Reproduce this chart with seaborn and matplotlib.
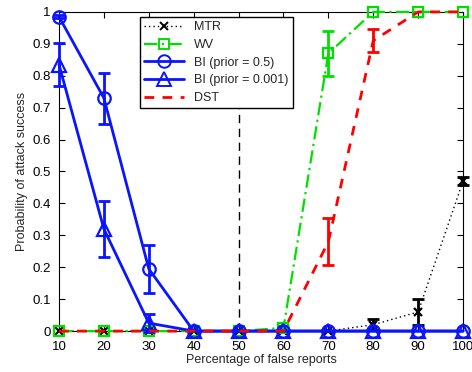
import numpy as np
import pandas as pd
import seaborn as sns
import matplotlib
matplotlib.use("Agg")
import matplotlib.pyplot as plt
from matplotlib.lines import Line2D

x = [10, 20, 30, 40, 50, 60, 70, 80, 90, 100]

mtr = [0, 0, 0, 0, 0, 0, 0, 0.02, 0.06, 0.47]
mtr_err = [0, 0, 0, 0, 0, 0, 0, 0.018, 0.04, 0.012]

wv = [0, 0, 0, 0, 0, 0.01, 0.87, 1.0, 1.0, 1.0]
wv_err = [0, 0, 0, 0, 0, 0.005, 0.07, 0, 0, 0]

bi_05 = [0.985, 0.73, 0.195, 0, 0, 0, 0, 0, 0, 0]
bi_05_err = [0.005, 0.08, 0.075, 0, 0, 0, 0, 0, 0, 0]

bi_0001 = [0.835, 0.32, 0.025, 0, 0, 0, 0, 0, 0, 0]
bi_0001_err = [0.068, 0.087, 0.028, 0, 0, 0, 0, 0, 0, 0]

dst = [0, 0, 0, 0, 0, 0, 0.28, 0.91, 1.0, 1.0]
dst_err = [0, 0, 0, 0, 0, 0, 0.073, 0.035, 0, 0]

threshold = 50

sns.set_style("ticks")
plt.rcParams["font.family"] = ["Liberation Sans", "DejaVu Sans"]

fig = plt.figure(figsize=(4.72, 3.72), dpi=100)
ax = fig.add_axes([0.125, 0.110, 0.856, 0.858])

series = [
    ("MTR", mtr, mtr_err, "black", (0, (1, 2.2)), "x", 1.0, 6),
    ("WV", wv, wv_err, "#00e000", (0, (6, 2, 1, 2)), "s", 1.6, 7),
    ("BI (prior = 0.5)", bi_05, bi_05_err, "#0a14ff", "-", "o", 2.0, 9),
    ("BI (prior = 0.001)", bi_0001, bi_0001_err, "#0a14ff", "-", "^", 2.0, 10),
    ("DST", dst, dst_err, "#ff0000", (0, (3.5, 3)), None, 2.0, 0),
]

order = [4, 0, 1, 2, 3]
for i in order:
    name, vals, err, col, ls, mk, lw, ms = series[i]
    df = pd.DataFrame({"x": x, "y": vals})
    sns.lineplot(data=df, x="x", y="y", ax=ax, color=col, linestyle=ls,
                 linewidth=lw, marker=mk, markersize=ms,
                 markerfacecolor="none" if mk not in (None, "x") else col,
                 markeredgecolor=col, markeredgewidth=1.6,
                 label=name, zorder=3 + i, legend=False, clip_on=False)
    e = np.array(err)
    idx = e > 0
    eb = ax.errorbar(np.array(x)[idx], np.array(vals)[idx], yerr=e[idx], fmt="none",
                     ecolor=col, elinewidth=2.0, capsize=4, capthick=2.0, zorder=3 + i)
    for art in eb.lines[1] + eb.lines[2]:
        art.set_clip_on(False)

ax.plot([threshold, threshold], [0, 1], color="black", linestyle=(0, (6, 4)),
        linewidth=1.0, zorder=2)

handles = []
for name, vals, err, col, ls, mk, lw, ms in series:
    handles.append(Line2D([], [], color=col, linestyle=ls, linewidth=lw,
                          marker=mk, markersize=ms,
                          markerfacecolor="none" if mk not in (None, "x") else col,
                          markeredgecolor=col, markeredgewidth=1.4))
leg = ax.legend(handles, [s[0] for s in series], loc="upper left",
                bbox_to_anchor=(0.2, 0.984), borderaxespad=0, fontsize=9,
                frameon=True, fancybox=False, edgecolor="black", framealpha=1,
                handlelength=3.2, borderpad=0.35, labelspacing=0.45)
leg.get_frame().set_linewidth(1.0)
leg.set_zorder(20)

ax.set_xlim(10, 100)
ax.set_ylim(0, 1)
ax.set_xticks(x)
ax.set_xticklabels([str(v) for v in x])
yt = np.round(np.arange(0, 1.01, 0.1), 1)
ax.set_yticks(yt)
ax.set_yticklabels(["0"] + [f"{v:g}" for v in yt[1:-1]] + ["1"])
ax.tick_params(direction="in", top=True, right=True, labelsize=9.5, length=4,
               width=0.8, color="black", labelcolor="black")
ax.tick_params(axis="x", pad=7)
ax.tick_params(axis="y", pad=6)
for s in ax.spines.values():
    s.set_linewidth(0.8)
    s.set_color("black")
ax.set_xlabel("Percentage of false reports", fontsize=9, labelpad=1)
ax.set_ylabel("Probability of attack success", fontsize=9, labelpad=3)

fig.savefig("out.png", dpi=100)
